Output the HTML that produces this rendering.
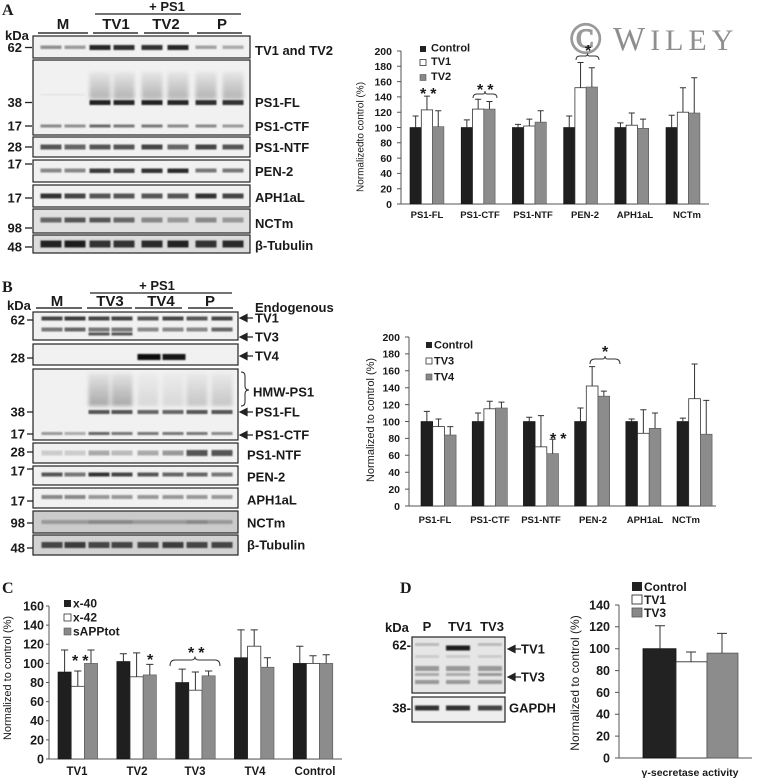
<!DOCTYPE html>
<html><head><meta charset="utf-8"><style>
html,body{margin:0;padding:0;background:#fff;}
svg{display:block;}
text{font-family:"Liberation Sans",Arial,sans-serif;fill:#1a1a1a;}
.serif{font-family:"Liberation Serif","Times New Roman",serif;}
</style></head><body>
<svg width="763" height="778" viewBox="0 0 763 778" xmlns="http://www.w3.org/2000/svg">
<defs>
<filter id="bl" x="-20%" y="-100%" width="140%" height="300%"><feGaussianBlur stdDeviation="0.9"/></filter>
<filter id="bl2" x="-20%" y="-50%" width="140%" height="200%"><feGaussianBlur stdDeviation="1.8"/></filter>
<linearGradient id="smear" x1="0" y1="0" x2="0" y2="1"><stop offset="0" stop-color="#e4e4e4"/><stop offset="0.5" stop-color="#c6c6c6"/><stop offset="1" stop-color="#a8a8a8"/></linearGradient>
</defs>
<rect width="763" height="778" fill="#fff"/>

<!-- ================= PANEL A BLOTS ================= -->
<text class="serif" x="2" y="15" font-size="16" font-weight="bold">A</text>
<text x="167" y="11" font-size="13" font-weight="bold" text-anchor="middle">+ PS1</text>
<line x1="95" y1="14" x2="241" y2="14" stroke="#222" stroke-width="1.3"/>
<g font-size="15" font-weight="bold" text-anchor="middle">
<text x="63" y="29">M</text><text x="116" y="29">TV1</text><text x="166" y="29">TV2</text><text x="222" y="29">P</text>
</g>
<g stroke="#333" stroke-width="1.5"><line x1="38" y1="33" x2="88" y2="33"/><line x1="93" y1="33" x2="138" y2="33"/><line x1="144" y1="33" x2="189" y2="33"/><line x1="197" y1="33" x2="242" y2="33"/></g>
<text x="5" y="40" font-size="13" font-weight="bold">kDa</text>

<g fill="#f1f1f1" stroke="#222" stroke-width="1.2">
<rect x="33" y="36" width="217" height="22"/>
<rect x="33" y="60" width="217" height="75"/>
<rect x="33" y="137" width="217" height="20"/>
<rect x="33" y="160" width="217" height="22"/>
<rect x="33" y="185" width="217" height="22"/>
<rect x="33" y="209" width="217" height="24" fill="#e0e0e0"/>
<rect x="33" y="235" width="217" height="18" fill="#dcdcdc"/>
</g>
<g filter="url(#bl)">
<rect x="40.5" y="45.5" width="21" height="3.5" fill="#8f8f8f"/><rect x="64.5" y="45.5" width="21" height="3.5" fill="#9a9a9a"/>
<rect x="89.5" y="45" width="21" height="5" fill="#262626"/><rect x="113.5" y="45" width="21" height="5" fill="#2e2e2e"/>
<rect x="141.5" y="45" width="21" height="5" fill="#333"/><rect x="167.5" y="45" width="21" height="5" fill="#262626"/>
<rect x="195.5" y="45.5" width="21" height="3.5" fill="#a0a0a0"/><rect x="222.5" y="45.5" width="21" height="3.5" fill="#aaa"/>
<g filter="url(#bl2)" opacity="0.85">
<rect x="89.5" y="72" width="21" height="27" fill="url(#smear)"/><rect x="113.5" y="72" width="21" height="27" fill="url(#smear)"/>
<rect x="141.5" y="72" width="21" height="27" fill="url(#smear)"/><rect x="167.5" y="72" width="21" height="27" fill="url(#smear)"/>
<rect x="195.5" y="72" width="21" height="27" fill="url(#smear)"/><rect x="222.5" y="72" width="21" height="27" fill="url(#smear)"/>
</g>
<rect x="40.5" y="94" width="45" height="1.5" fill="#e4e4e4"/>
<rect x="89.5" y="100" width="21" height="5" fill="#222"/><rect x="113.5" y="100" width="21" height="5" fill="#262626"/>
<rect x="141.5" y="100" width="21" height="5" fill="#222"/><rect x="167.5" y="100" width="21" height="5" fill="#262626"/>
<rect x="195.5" y="100" width="21" height="5" fill="#2e2e2e"/><rect x="222.5" y="100" width="21" height="5" fill="#333"/>
<rect x="40.5" y="124.5" width="21" height="3" fill="#888"/><rect x="64.5" y="124.5" width="21" height="3" fill="#8f8f8f"/>
<rect x="89.5" y="124.5" width="21" height="3" fill="#666"/><rect x="113.5" y="124.5" width="21" height="3" fill="#777"/>
<rect x="141.5" y="124.5" width="21" height="3" fill="#777"/><rect x="167.5" y="124.5" width="21" height="3" fill="#888"/>
<rect x="195.5" y="124.5" width="21" height="3" fill="#888"/><rect x="222.5" y="124.5" width="21" height="3" fill="#999"/>
<rect x="40.5" y="144.5" width="21" height="5" fill="#555"/><rect x="64.5" y="144.5" width="21" height="5" fill="#666"/>
<rect x="89.5" y="144.5" width="21" height="5" fill="#555"/><rect x="113.5" y="144.5" width="21" height="5" fill="#555"/>
<rect x="141.5" y="144.5" width="21" height="5" fill="#444"/><rect x="167.5" y="144.5" width="21" height="5" fill="#666"/>
<rect x="195.5" y="144.5" width="21" height="5" fill="#444"/><rect x="222.5" y="144.5" width="21" height="5" fill="#555"/>
<rect x="40.5" y="168.5" width="21" height="4" fill="#888"/><rect x="64.5" y="168.5" width="21" height="4" fill="#888"/>
<rect x="89.5" y="168.5" width="21" height="4.5" fill="#3a3a3a"/><rect x="113.5" y="168.5" width="21" height="4.5" fill="#444"/>
<rect x="141.5" y="168.5" width="21" height="4.5" fill="#333"/><rect x="167.5" y="168.5" width="21" height="4.5" fill="#2a2a2a"/>
<rect x="195.5" y="168.5" width="21" height="4" fill="#777"/><rect x="222.5" y="168.5" width="21" height="4" fill="#777"/>
<rect x="40.5" y="193.5" width="21" height="5" fill="#333"/><rect x="64.5" y="193.5" width="21" height="5" fill="#444"/>
<rect x="89.5" y="193.5" width="21" height="5" fill="#555"/><rect x="113.5" y="193.5" width="21" height="5" fill="#555"/>
<rect x="141.5" y="193.5" width="21" height="5" fill="#555"/><rect x="167.5" y="193.5" width="21" height="5" fill="#555"/>
<rect x="195.5" y="193.5" width="21" height="5" fill="#333"/><rect x="222.5" y="193.5" width="21" height="5" fill="#444"/>
<rect x="40.5" y="217.5" width="21" height="5" fill="#666"/><rect x="64.5" y="217.5" width="21" height="5" fill="#555"/>
<rect x="89.5" y="217.5" width="21" height="5" fill="#555"/><rect x="113.5" y="217.5" width="21" height="5" fill="#666"/>
<rect x="141.5" y="217.5" width="21" height="5" fill="#888"/><rect x="167.5" y="217.5" width="21" height="5" fill="#999"/>
<rect x="195.5" y="217.5" width="21" height="5" fill="#888"/><rect x="222.5" y="217.5" width="21" height="5" fill="#999"/>
<rect x="40.5" y="240.5" width="21" height="7" fill="#222"/><rect x="64.5" y="240.5" width="21" height="7" fill="#1a1a1a"/>
<rect x="89.5" y="240.5" width="21" height="7" fill="#333"/><rect x="113.5" y="240.5" width="21" height="7" fill="#333"/>
<rect x="141.5" y="240.5" width="21" height="7" fill="#2a2a2a"/><rect x="167.5" y="240.5" width="21" height="7" fill="#222"/>
<rect x="195.5" y="240.5" width="21" height="7" fill="#333"/><rect x="222.5" y="240.5" width="21" height="7" fill="#2a2a2a"/>
</g>
<g font-size="13" font-weight="bold" text-anchor="end">
<text x="22" y="52">62</text><text x="22" y="107">38</text><text x="22" y="130.5">17</text><text x="22" y="151.5">28</text>
<text x="22" y="168.5">17</text><text x="22" y="202.5">17</text><text x="22" y="232.5">98</text><text x="22" y="251.5">48</text>
</g>
<g stroke="#222" stroke-width="1.3">
<line x1="25" y1="47.5" x2="32" y2="47.5"/><line x1="25" y1="102.5" x2="32" y2="102.5"/><line x1="25" y1="126" x2="32" y2="126"/>
<line x1="25" y1="147" x2="32" y2="147"/><line x1="25" y1="164" x2="32" y2="164"/><line x1="25" y1="198" x2="32" y2="198"/>
<line x1="25" y1="228" x2="32" y2="228"/><line x1="25" y1="247" x2="32" y2="247"/>
</g>
<g font-size="13" font-weight="bold">
<text x="255" y="55">TV1 and TV2</text><text x="255" y="107">PS1-FL</text><text x="255" y="131">PS1-CTF</text>
<text x="255" y="152">PS1-NTF</text><text x="255" y="176">PEN-2</text><text x="255" y="202">APH1aL</text>
<text x="255" y="228">NCTm</text><text x="255" y="250">β-Tubulin</text>
</g>

<!-- ================= PANEL A CHART ================= -->
<text class="serif" x="569" y="53" font-size="44" fill="#9a9a9a" stroke="#9a9a9a" stroke-width="1.2" style="fill:#9a9a9a">©</text>
<text class="serif" x="613" y="50" fill="#8e8e8e" letter-spacing="5" style="fill:#8e8e8e"><tspan font-size="34">W</tspan><tspan font-size="30">ILEY</tspan></text>

<text transform="translate(363.5,137) rotate(-90)" font-size="10" text-anchor="middle">Normalizedto control (%)</text>
<g stroke="#555" stroke-width="1" fill="none">
<path d="M401,51V204H709"/>
<path d="M397,204H401M397,188.7H401M397,173.4H401M397,158.1H401M397,142.8H401M397,127.5H401M397,112.2H401M397,96.9H401M397,81.6H401M397,66.3H401M397,51H401"/>
</g>
<g font-size="10.5" font-weight="bold" text-anchor="end" style="fill:#2a2a2a">
<text x="392" y="207.8">0</text><text x="392" y="192.5">20</text><text x="392" y="177.2">40</text><text x="392" y="161.9">60</text>
<text x="392" y="146.6">80</text><text x="392" y="131.3">100</text><text x="392" y="116">120</text><text x="392" y="100.7">140</text>
<text x="392" y="85.4">160</text><text x="392" y="70.1">180</text><text x="392" y="54.8">200</text>
</g>
<g fill="#1f1f1f" stroke="#111" stroke-width="0.6">
<rect x="410" y="127.5" width="11.3" height="76.5"/><rect x="461.2" y="127.5" width="11.3" height="76.5"/>
<rect x="512.4" y="127.5" width="11.3" height="76.5"/><rect x="563.6" y="127.5" width="11.3" height="76.5"/>
<rect x="614.8" y="127.5" width="11.3" height="76.5"/><rect x="666" y="127.5" width="11.3" height="76.5"/>
</g>
<g fill="#fff" stroke="#333" stroke-width="0.8">
<rect x="421.3" y="109.9" width="11.3" height="94.1"/><rect x="472.5" y="109.1" width="11.3" height="94.9"/>
<rect x="523.7" y="126" width="11.3" height="78"/><rect x="574.9" y="87.7" width="11.3" height="116.3"/>
<rect x="626.1" y="125.2" width="11.3" height="78.8"/><rect x="677.3" y="112.2" width="11.3" height="91.8"/>
</g>
<g fill="#8c8c8c" stroke="#555" stroke-width="0.6">
<rect x="432.6" y="126.7" width="11.3" height="77.3"/><rect x="483.8" y="109.1" width="11.3" height="94.9"/>
<rect x="535" y="122.1" width="11.3" height="81.9"/><rect x="586.2" y="87" width="11.3" height="117"/>
<rect x="637.4" y="128.3" width="11.3" height="75.7"/><rect x="688.6" y="113" width="11.3" height="91"/>
</g>
<path stroke="#333" stroke-width="1" fill="none" d="M415.65,127.5V116M412.6,116H418.6M426.95,109.9V96.1M423.9,96.1H430M438.25,126.7V110.7M435.2,110.7H441.3
M466.85,127.5V119.85M463.8,119.85H469.9M478.15,109.1V99.2M475.1,99.2H481.2M489.45,109.1V101.5M486.4,101.5H492.5
M518.05,127.5V124.4M515,124.4H521.1M529.35,126V119.1M526.3,119.1H532.4M540.65,122.1V110.7M537.6,110.7H543.7
M569.25,127.5V116M566.2,116H572.3M580.55,87.7V62.5M577.5,62.5H583.6M591.85,87V67.8M588.8,67.8H594.9
M620.45,127.5V122.9M617.4,122.9H623.5M631.75,125.2V113M628.7,113H634.8M643.05,128.3V119.1M640,119.1H646.1
M671.65,127.5V115.3M668.6,115.3H674.7M682.95,112.2V87.7M679.9,87.7H686M694.25,113V77.8M691.2,77.8H697.3"/>
<g font-size="9.5" font-weight="bold" text-anchor="middle">
<text x="427" y="218">PS1-FL</text><text x="480" y="218">PS1-CTF</text><text x="533" y="218">PS1-NTF</text>
<text x="585" y="218">PEN-2</text><text x="635" y="218">APH1aL</text><text x="687" y="218">NCTm</text>
</g>
<rect x="420" y="46" width="6" height="6" fill="#222"/>
<rect x="420" y="59.5" width="6" height="6" fill="#fff" stroke="#333" stroke-width="0.8"/>
<rect x="420" y="74.5" width="6" height="6" fill="#888" stroke="#555" stroke-width="0.6"/>
<g font-size="11" font-weight="bold">
<text x="431" y="51.5">Control</text><text x="431" y="65">TV1</text><text x="431" y="80">TV2</text>
</g>
<g font-size="16" font-weight="bold" style="fill:#333">
<text x="420" y="98.8" letter-spacing="4">**</text>
<text x="477" y="94.8" letter-spacing="4">**</text>
<text x="585" y="55.8">*</text>
</g>
<g stroke="#333" stroke-width="1" fill="none">
<path d="M473,98Q473,94 477,94L483,94Q485,94 485,91Q485,94 487,94L493,94Q497,94 497,98"/>
<path d="M576,60Q576,56 580,56L585.5,56Q587.5,56 587.5,53.5Q587.5,56 589.5,56L595,56Q599,56 599,60"/>
</g>

<!-- ================= PANEL B BLOTS ================= -->
<text class="serif" x="2" y="292" font-size="16" font-weight="bold">B</text>
<text x="157" y="290" font-size="13" font-weight="bold" text-anchor="middle">+ PS1</text>
<line x1="90" y1="293" x2="232" y2="293" stroke="#222" stroke-width="1.3"/>
<g font-size="15" font-weight="bold" text-anchor="middle">
<text x="57" y="306">M</text><text x="110" y="306">TV3</text><text x="161" y="306">TV4</text><text x="210" y="306">P</text>
</g>
<g stroke="#333" stroke-width="1.5"><line x1="36" y1="308" x2="82" y2="308"/><line x1="87" y1="308" x2="132" y2="308"/><line x1="135" y1="308" x2="182" y2="308"/><line x1="188" y1="308" x2="233" y2="308"/></g>
<text x="7" y="310" font-size="13" font-weight="bold">kDa</text>
<text x="255" y="312" font-size="13" font-weight="bold">Endogenous</text>

<g fill="#f1f1f1" stroke="#222" stroke-width="1.2">
<rect x="33" y="312" width="205" height="28"/>
<rect x="33" y="344" width="205" height="21"/>
<rect x="33" y="369" width="205" height="71"/>
<rect x="33" y="443" width="205" height="20"/>
<rect x="33" y="466" width="205" height="19"/>
<rect x="33" y="488" width="205" height="20"/>
<rect x="33" y="511" width="205" height="22" fill="#cbcbcb"/>
<rect x="33" y="535" width="205" height="20" fill="#d2d2d2"/>
</g>
<g filter="url(#bl)">
<rect x="41.5" y="316.5" width="21" height="4" fill="#444"/><rect x="64.5" y="316.5" width="21" height="4" fill="#3a3a3a"/>
<rect x="88.5" y="316.5" width="21" height="4" fill="#444"/><rect x="111.5" y="316.5" width="21" height="4" fill="#444"/>
<rect x="137.5" y="316.5" width="21" height="4" fill="#555"/><rect x="162.5" y="316.5" width="21" height="4" fill="#444"/>
<rect x="186.5" y="316.5" width="21" height="4" fill="#555"/><rect x="211.5" y="316.5" width="21" height="4" fill="#444"/>
<rect x="41.5" y="327.5" width="21" height="4" fill="#777"/><rect x="64.5" y="327.5" width="21" height="4" fill="#666"/>
<rect x="88.5" y="327.5" width="21" height="4" fill="#777"/><rect x="111.5" y="327.5" width="21" height="4" fill="#777"/>
<rect x="137.5" y="327.5" width="21" height="4" fill="#888"/><rect x="162.5" y="327.5" width="21" height="4" fill="#888"/>
<rect x="186.5" y="327.5" width="21" height="4" fill="#888"/><rect x="211.5" y="327.5" width="21" height="4" fill="#666"/>
<rect x="88.5" y="332.5" width="21" height="3" fill="#555"/><rect x="111.5" y="332.5" width="21" height="3" fill="#555"/>
<rect x="137.5" y="354" width="23" height="6" fill="#111"/><rect x="162.5" y="354" width="23" height="6" fill="#161616"/>
<g filter="url(#bl2)">
<rect x="88.5" y="373" width="21" height="33" fill="url(#smear)"/><rect x="111.5" y="373" width="21" height="33" fill="url(#smear)"/>
<rect x="186.5" y="373" width="21" height="33" fill="url(#smear)" opacity="0.6"/><rect x="211.5" y="373" width="21" height="33" fill="url(#smear)" opacity="0.6"/>
<rect x="137.5" y="373" width="21" height="33" fill="url(#smear)" opacity="0.35"/><rect x="162.5" y="373" width="21" height="33" fill="url(#smear)" opacity="0.35"/>
</g>
<rect x="88.5" y="410" width="21" height="4" fill="#555"/><rect x="111.5" y="410" width="21" height="4" fill="#555"/>
<rect x="137.5" y="410" width="21" height="4" fill="#666"/><rect x="162.5" y="410" width="21" height="4" fill="#666"/>
<rect x="186.5" y="410" width="21" height="4" fill="#555"/><rect x="211.5" y="410" width="21" height="4" fill="#555"/>
<rect x="41.5" y="432" width="21" height="3" fill="#999"/><rect x="64.5" y="432" width="21" height="3" fill="#aaa"/>
<rect x="88.5" y="432" width="21" height="3" fill="#666"/><rect x="111.5" y="432" width="21" height="3" fill="#777"/>
<rect x="137.5" y="432" width="21" height="3" fill="#777"/><rect x="162.5" y="432" width="21" height="3" fill="#777"/>
<rect x="186.5" y="432" width="21" height="3" fill="#777"/><rect x="211.5" y="432" width="21" height="3" fill="#888"/>
<rect x="41.5" y="450.5" width="21" height="5" fill="#ccc"/><rect x="64.5" y="450.5" width="21" height="5" fill="#ccc"/>
<rect x="88.5" y="450.5" width="21" height="5" fill="#aaa"/><rect x="111.5" y="450.5" width="21" height="5" fill="#bbb"/>
<rect x="137.5" y="450.5" width="21" height="5" fill="#aaa"/><rect x="162.5" y="450.5" width="21" height="5" fill="#999"/>
<rect x="186.5" y="450" width="21" height="6" fill="#555"/><rect x="211.5" y="450" width="21" height="6" fill="#555"/>
<rect x="41.5" y="472.5" width="21" height="4" fill="#555"/><rect x="64.5" y="472.5" width="21" height="4" fill="#777"/>
<rect x="88.5" y="472.5" width="21" height="4" fill="#333"/><rect x="111.5" y="472.5" width="21" height="4" fill="#444"/>
<rect x="137.5" y="472.5" width="21" height="4" fill="#555"/><rect x="162.5" y="472.5" width="21" height="4" fill="#666"/>
<rect x="186.5" y="472.5" width="21" height="4" fill="#666"/><rect x="211.5" y="472.5" width="21" height="4" fill="#777"/>
<rect x="41.5" y="495" width="21" height="4" fill="#888"/><rect x="64.5" y="495" width="21" height="4" fill="#888"/>
<rect x="88.5" y="495" width="21" height="4" fill="#999"/><rect x="111.5" y="495" width="21" height="4" fill="#999"/>
<rect x="137.5" y="495" width="21" height="4" fill="#999"/><rect x="162.5" y="495" width="21" height="4" fill="#999"/>
<rect x="186.5" y="495" width="21" height="4" fill="#999"/><rect x="211.5" y="495" width="21" height="4" fill="#999"/>
<rect x="41.5" y="520" width="191" height="4" fill="#999"/>
<rect x="88.5" y="520" width="44" height="4" fill="#888"/><rect x="186.5" y="520" width="21" height="4" fill="#888"/>
<rect x="41.5" y="542" width="21" height="6" fill="#444"/><rect x="64.5" y="542" width="21" height="6" fill="#3a3a3a"/>
<rect x="88.5" y="542" width="21" height="6" fill="#444"/><rect x="111.5" y="542" width="21" height="6" fill="#444"/>
<rect x="137.5" y="542" width="21" height="6" fill="#444"/><rect x="162.5" y="542" width="21" height="6" fill="#3a3a3a"/>
<rect x="186.5" y="542" width="21" height="6" fill="#444"/><rect x="211.5" y="542" width="21" height="6" fill="#444"/>
</g>
<g font-size="13" font-weight="bold" text-anchor="end">
<text x="25" y="324.6">62</text><text x="25" y="362.6">28</text><text x="25" y="416.6">38</text><text x="25" y="438.6">17</text>
<text x="25" y="456.6">28</text><text x="25" y="475.6">17</text><text x="25" y="505.6">17</text><text x="25" y="527.6">98</text><text x="25" y="552.6">48</text>
</g>
<g stroke="#222" stroke-width="1.3">
<line x1="27" y1="320" x2="33" y2="320"/><line x1="27" y1="358" x2="33" y2="358"/><line x1="27" y1="412" x2="33" y2="412"/>
<line x1="27" y1="434" x2="33" y2="434"/><line x1="27" y1="452" x2="33" y2="452"/><line x1="27" y1="469" x2="33" y2="469"/>
<line x1="27" y1="501" x2="33" y2="501"/><line x1="27" y1="523" x2="33" y2="523"/><line x1="27" y1="548" x2="33" y2="548"/>
</g>
<g fill="#222" stroke="#222" stroke-width="1.2">
<path d="M240,318L247,314.5L247,321.5Z M247,318H253"/>
<path d="M240,337L247,333.5L247,340.5Z M247,337H253"/>
<path d="M240,356L247,352.5L247,359.5Z M247,356H253"/>
<path d="M240,412L247,408.5L247,415.5Z M247,412H253"/>
<path d="M240,435L247,431.5L247,438.5Z M247,435H253"/>
</g>
<path d="M241,372Q245,372 245,376L245,386Q245,390 249,390Q245,390 245,394L245,402Q245,406 241,406" stroke="#222" stroke-width="1" fill="none"/>
<g font-size="13" font-weight="bold">
<text x="255" y="322.5">TV1</text><text x="255" y="341.5">TV3</text><text x="255" y="360.5">TV4</text>
<text x="253" y="396.5">HMW-PS1</text><text x="255" y="416.5">PS1-FL</text><text x="255" y="439.5">PS1-CTF</text>
<text x="247" y="459.5">PS1-NTF</text><text x="247" y="481.5">PEN-2</text><text x="247" y="504.5">APH1aL</text>
<text x="247" y="527.5">NCTm</text><text x="247" y="549.5">β-Tubulin</text>
</g>

<!-- ================= PANEL B CHART ================= -->
<text transform="translate(374,420) rotate(-90)" font-size="11" text-anchor="middle">Normalized to control (%)</text>
<g stroke="#555" stroke-width="1" fill="none">
<path d="M409,337V506H716"/>
<path d="M405,506H409M405,489.1H409M405,472.2H409M405,455.3H409M405,438.4H409M405,421.5H409M405,404.6H409M405,387.7H409M405,370.8H409M405,353.9H409M405,337H409"/>
</g>
<g font-size="10.5" font-weight="bold" text-anchor="end" style="fill:#2a2a2a">
<text x="400" y="509.8">0</text><text x="400" y="492.9">20</text><text x="400" y="476">40</text><text x="400" y="459.1">60</text>
<text x="400" y="442.2">80</text><text x="400" y="425.3">100</text><text x="400" y="408.4">120</text><text x="400" y="391.5">140</text>
<text x="400" y="374.6">160</text><text x="400" y="357.7">180</text><text x="400" y="340.8">200</text>
</g>
<g fill="#1f1f1f" stroke="#111" stroke-width="0.6">
<rect x="421" y="421.5" width="11.7" height="84.5"/><rect x="472.2" y="421.5" width="11.7" height="84.5"/>
<rect x="523.4" y="421.5" width="11.7" height="84.5"/><rect x="574.6" y="421.5" width="11.7" height="84.5"/>
<rect x="625.8" y="421.5" width="11.7" height="84.5"/><rect x="677" y="421.5" width="11.7" height="84.5"/>
</g>
<g fill="#fff" stroke="#333" stroke-width="0.8">
<rect x="432.7" y="426.6" width="11.7" height="79.4"/><rect x="483.9" y="408.8" width="11.7" height="97.2"/>
<rect x="535.1" y="446.85" width="11.7" height="59.15"/><rect x="586.3" y="386" width="11.7" height="120"/>
<rect x="637.5" y="433.3" width="11.7" height="72.7"/><rect x="688.7" y="398.7" width="11.7" height="107.3"/>
</g>
<g fill="#8c8c8c" stroke="#555" stroke-width="0.6">
<rect x="444.4" y="435" width="11.7" height="71"/><rect x="495.6" y="408" width="11.7" height="98"/>
<rect x="546.8" y="453.6" width="11.7" height="52.4"/><rect x="598" y="396.15" width="11.7" height="109.85"/>
<rect x="649.2" y="428.3" width="11.7" height="77.7"/><rect x="700.4" y="434.2" width="11.7" height="71.8"/>
</g>
<path stroke="#333" stroke-width="1" fill="none" d="M426.85,421.5V411.4M423.8,411.4H429.9M478.05,421.5V413.05M475,413.05H481.1M529.25,421.5V417.3M526.2,417.3H532.3M580.45,421.5V408M577.4,408H583.5M631.65,421.5V419M628.6,419H634.7M682.85,421.5V418.1M679.8,418.1H685.9
M438.55,426.6V419M435.5,419H441.6M489.75,408.8V401.2M486.7,401.2H492.8M540.95,446.85V415.6M537.9,415.6H544M592.15,386V366.6M589.1,366.6H595.2M643.35,433.3V409.7M640.3,409.7H646.4M694.55,398.7V364M691.5,364H697.6
M450.25,435V426.6M447.2,426.6H453.3M501.45,408V402.1M498.4,402.1H504.5M552.65,453.6V439.2M549.6,439.2H555.7M603.85,396.15V391.1M600.8,391.1H606.9M655.05,428.3V413.05M652,413.05H658.1M706.25,434.2V400.4M703.2,400.4H709.3"/>
<g font-size="9.5" font-weight="bold" text-anchor="middle">
<text x="435" y="523">PS1-FL</text><text x="490" y="523">PS1-CTF</text><text x="541" y="523">PS1-NTF</text>
<text x="593" y="523">PEN-2</text><text x="645" y="523">APH1aL</text><text x="686" y="523">NCTm</text>
</g>
<rect x="426" y="342" width="6" height="6" fill="#222"/>
<rect x="426" y="358" width="6" height="6" fill="#fff" stroke="#333" stroke-width="0.8"/>
<rect x="426" y="374" width="6" height="6" fill="#888" stroke="#555" stroke-width="0.6"/>
<g font-size="11" font-weight="bold">
<text x="434" y="348.5">Control</text><text x="434" y="364.5">TV3</text><text x="434" y="380.5">TV4</text>
</g>
<g font-size="16" font-weight="bold" style="fill:#333">
<text x="550" y="443.8" letter-spacing="4">**</text>
<text x="602" y="356.8">*</text>
</g>
<path d="M590,364Q590,359 595,359L602.5,359Q605,359 605,356Q605,359 607.5,359L615,359Q620,359 620,364" stroke="#333" stroke-width="1" fill="none"/>

<!-- ================= PANEL C ================= -->
<text class="serif" x="2" y="593" font-size="16" font-weight="bold">C</text>
<text transform="translate(11,678) rotate(-90)" font-size="11" text-anchor="middle">Normalized to control (%)</text>
<g stroke="#555" stroke-width="1" fill="none">
<path d="M49,606V759H342"/>
<path d="M46,759H49M46,739.9H49M46,720.75H49M46,701.6H49M46,682.5H49M46,663.4H49M46,644.25H49M46,625.1H49M46,606H49"/>
</g>
<g font-size="12.5" font-weight="bold" text-anchor="end" style="fill:#2a2a2a">
<text x="44" y="763.4">0</text><text x="44" y="744.3">20</text><text x="44" y="725.15">40</text><text x="44" y="706">60</text>
<text x="44" y="686.9">80</text><text x="44" y="667.8">100</text><text x="44" y="648.65">120</text><text x="44" y="629.5">140</text><text x="44" y="610.4">160</text>
</g>
<g fill="#1f1f1f" stroke="#111" stroke-width="0.6">
<rect x="58" y="672" width="13.2" height="87"/><rect x="116.8" y="661.5" width="13.2" height="97.5"/>
<rect x="175.6" y="682.5" width="13.2" height="76.5"/><rect x="234.4" y="657.7" width="13.2" height="101.3"/>
<rect x="293.2" y="663.4" width="13.2" height="95.6"/>
</g>
<g fill="#fff" stroke="#333" stroke-width="0.8">
<rect x="71.2" y="686.3" width="13.2" height="72.7"/><rect x="130" y="676.8" width="13.2" height="82.2"/>
<rect x="188.8" y="690.2" width="13.2" height="68.8"/><rect x="247.6" y="646.2" width="13.2" height="112.8"/>
<rect x="306.4" y="663.4" width="13.2" height="95.6"/>
</g>
<g fill="#8c8c8c" stroke="#555" stroke-width="0.6">
<rect x="84.4" y="663.4" width="13.2" height="95.6"/><rect x="143.2" y="674.9" width="13.2" height="84.1"/>
<rect x="202" y="675.8" width="13.2" height="83.2"/><rect x="260.8" y="667.2" width="13.2" height="91.8"/>
<rect x="319.6" y="663.4" width="13.2" height="95.6"/>
</g>
<path stroke="#333" stroke-width="1" fill="none" d="M64.6,672V650M61,650H68.2M123.4,661.5V653.8M119.8,653.8H127M182.2,682.5V669.1M178.6,669.1H185.8M241,657.7V629.9M237.4,629.9H244.6M299.8,663.4V646.2M296.2,646.2H303.4
M77.8,686.3V671M74.2,671H81.4M136.6,676.8V652.9M133,652.9H140.2M195.4,690.2V672M191.8,672H199M254.2,646.2V629.9M250.6,629.9H257.8M313,663.4V655.8M309.4,655.8H316.6
M91,663.4V650M87.4,650H94.6M149.8,674.9V664.4M146.2,664.4H153.4M208.6,675.8V671M205,671H212.2M267.4,667.2V657.7M263.8,657.7H271M326.2,663.4V654.8M322.6,654.8H329.8"/>
<g font-size="11.5" font-weight="bold" text-anchor="middle">
<text x="77" y="775">TV1</text><text x="137" y="775">TV2</text><text x="195" y="775">TV3</text><text x="255" y="775">TV4</text><text x="315" y="775">Control</text>
</g>
<rect x="64" y="600" width="7" height="7" fill="#222"/>
<rect x="64" y="614" width="7" height="7" fill="#fff" stroke="#333" stroke-width="0.8"/>
<rect x="64" y="628" width="7" height="7" fill="#888" stroke="#555" stroke-width="0.6"/>
<g font-size="12" font-weight="bold">
<text x="73" y="607.5">x-40</text><text x="73" y="621.5">x-42</text><text x="73" y="635.5">sAPPtot</text>
</g>
<g font-size="16" font-weight="bold" style="fill:#333">
<text x="72" y="665.8" letter-spacing="4">**</text>
<text x="147" y="664.8">*</text>
<text x="188" y="657.8" letter-spacing="4">**</text>
</g>
<path d="M170,666Q170,660 175,660L191,660Q195,660 195,656.5Q195,660 199,660L215,660Q220,660 220,666" stroke="#333" stroke-width="1" fill="none"/>

<!-- ================= PANEL D ================= -->
<text class="serif" x="400" y="593" font-size="16" font-weight="bold">D</text>
<text x="385" y="632" font-size="13" font-weight="bold">kDa</text>
<g font-size="13" font-weight="bold" text-anchor="middle">
<text x="427" y="631">P</text><text x="460" y="631">TV1</text><text x="492" y="631">TV3</text>
</g>
<g fill="#e6e6e6" stroke="#222" stroke-width="1.2">
<rect x="412" y="637" width="93" height="56"/>
<rect x="412" y="697" width="93" height="25" fill="#eeeeee"/>
</g>
<g filter="url(#bl)">
<rect x="415" y="643" width="24" height="3" fill="#bbb"/><rect x="478" y="643" width="24" height="3" fill="#bbb"/>
<rect x="446" y="645.5" width="24" height="5" fill="#1a1a1a"/>
<rect x="415" y="655" width="24" height="3" fill="#ccc"/><rect x="446" y="655" width="24" height="3" fill="#ccc"/><rect x="478" y="655" width="24" height="3" fill="#ccc"/>
<rect x="415" y="666" width="24" height="5" fill="#999"/><rect x="446" y="666" width="24" height="5" fill="#999"/><rect x="478" y="666" width="24" height="5" fill="#999"/>
<rect x="415" y="673" width="24" height="3" fill="#aaa"/><rect x="446" y="673" width="24" height="3" fill="#aaa"/><rect x="478" y="673" width="24" height="3" fill="#999"/>
<rect x="415" y="680" width="24" height="4" fill="#999"/><rect x="446" y="680" width="24" height="4" fill="#999"/><rect x="478" y="680" width="24" height="4" fill="#999"/>
<rect x="415" y="705.5" width="24" height="5" fill="#333"/><rect x="446" y="705.5" width="24" height="5" fill="#333"/><rect x="478" y="705.5" width="24" height="5" fill="#444"/>
</g>
<g font-size="13" font-weight="bold" text-anchor="end">
<text x="411" y="649.5">62-</text><text x="411" y="712.5">38-</text>
</g>
<g fill="#222" stroke="#222" stroke-width="1.2">
<path d="M508,649L515,645.5L515,652.5Z M515,649H521"/>
<path d="M508,677L515,673.5L515,680.5Z M515,677H521"/>
</g>
<g font-size="13" font-weight="bold">
<text x="521" y="653.5">TV1</text><text x="521" y="681.5">TV3</text><text x="509" y="712.5">GAPDH</text>
</g>

<text transform="translate(579,683) rotate(-90)" font-size="12" text-anchor="middle">Normalized to control (%)</text>
<g stroke="#555" stroke-width="1" fill="none">
<path d="M619,605V758H752"/>
<path d="M615,758H619M615,736.1H619M615,714.3H619M615,692.4H619M615,670.6H619M615,648.7H619M615,626.8H619M615,605H619"/>
</g>
<g font-size="12.5" font-weight="bold" text-anchor="end" style="fill:#2a2a2a">
<text x="610" y="762.4">0</text><text x="610" y="740.5">20</text><text x="610" y="718.7">40</text><text x="610" y="696.8">60</text>
<text x="610" y="675">80</text><text x="610" y="653.1">100</text><text x="610" y="631.2">120</text><text x="610" y="609.4">140</text>
</g>
<rect x="643" y="648.7" width="33" height="109.3" fill="#222" stroke="#111" stroke-width="0.8"/>
<rect x="676" y="661.8" width="31" height="96.2" fill="#fff" stroke="#333" stroke-width="0.9"/>
<rect x="707" y="653.1" width="31" height="104.9" fill="#8c8c8c" stroke="#555" stroke-width="0.8"/>
<path stroke="#333" stroke-width="1" fill="none" d="M660,648.7V625.7M655,625.7H665M691,661.8V652M686,652H696M722,653.1V633.4M717,633.4H727"/>
<rect x="632" y="582" width="10" height="9" fill="#222"/>
<rect x="632" y="595" width="10" height="9" fill="#fff" stroke="#333" stroke-width="0.9"/>
<rect x="632" y="608" width="10" height="9" fill="#888" stroke="#555" stroke-width="0.8"/>
<g font-size="12" font-weight="bold">
<text x="644" y="591">Control</text><text x="644" y="604">TV1</text><text x="644" y="617">TV3</text>
</g>
<text x="690" y="776" font-size="10.5" font-weight="bold" text-anchor="middle">γ-secretase activity</text>
</svg>
</body></html>
